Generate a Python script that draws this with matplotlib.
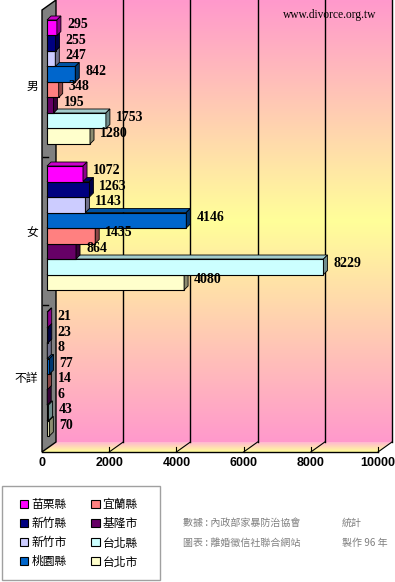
import numpy as np
import matplotlib.pyplot as plt
from matplotlib.patches import Polygon, Patch, Rectangle

plt.rcParams['font.family'] = ['Noto Sans CJK TC', 'DejaVu Sans']

# data
groups = ['男', '女', '不詳']
cities = ['苗栗縣', '新竹縣', '新竹市', '桃園縣', '宜蘭縣', '基隆市', '台北縣', '台北市']
colors = ['#FF00FF', '#000080', '#CCCCFF', '#0066CC', '#FF8080', '#660066', '#CCFFFF', '#FFFFCC']
male = [295, 255, 247, 842, 348, 195, 1753, 1280]
female = [1072, 1263, 1143, 4146, 1435, 864, 8229, 4080]
unknown = [21, 23, 8, 77, 14, 6, 43, 70]
xticks = [0, 2000, 4000, 6000, 8000, 10000]

W, H = 395, 582
fig = plt.figure(figsize=(W / 100, H / 100), dpi=100)

# --- decorations in pixel coords (walls, floor, grid) ---
bg = fig.add_axes([0, 0, 1, 1], zorder=0)
bg.axis('off')

pink = np.array([1.0, 0.6, 0.8])
yellow = np.array([1.0, 1.0, 0.6])
t = np.linspace(0, 1, 256)
w = 1 - np.abs(2 * t - 1)
grad = (pink[None, :] * (1 - w[:, None]) + yellow[None, :] * w[:, None])[:, None, :]
bg.imshow(grad, extent=(56, 392, 442, 0), aspect='auto', interpolation='bilinear')

t2 = np.linspace(0, 1, 32)
grad2 = (np.array([1.0, 0.72, 0.82])[None, :] * (1 - t2[:, None]) + yellow[None, :] * t2[:, None])[:, None, :]
floor = Polygon([(42, 452), (56, 442), (392, 442), (378, 452)], closed=True, fc='none', ec='none')
bg.add_patch(floor)
im = bg.imshow(grad2, extent=(42, 392, 452, 442), aspect='auto', interpolation='bilinear')
im.set_clip_path(floor)

bg.add_patch(Polygon([(42, 10), (56, 0), (56, 442), (42, 452)], closed=True,
                     fc='#808080', ec='black', lw=1, zorder=3))

bg.text(283, 15, 'www.divorce.org.tw', fontfamily='Liberation Serif', fontsize=8.3,
        va='center', ha='left', zorder=2)

px = 336 / 10000
for v in xticks[1:]:
    x = 56 + v * px
    bg.plot([x, x], [0, 442], color='black', lw=1, zorder=4)
    bg.plot([x - 14, x], [452, 442], color='black', lw=0.8, zorder=4)
    bg.plot([x - 14, x - 14], [447, 452], color='black', lw=0.8, zorder=4)
bg.plot([42, 378], [452, 452], color='black', lw=1, zorder=4)
for yt in [157, 305]:
    bg.plot([43, 48], [yt, yt], color='black', lw=1, zorder=4)

bg.add_patch(Rectangle((2, 486), 158, 94, fc='white', ec='#A0A0A0', lw=1, zorder=1))
bg.text(183, 523, '數據 : 內政部家暴防治協會', color='#808080', fontsize=7.2, va='center')
bg.text(342, 523, '統計', color='#808080', fontsize=7.2, va='center')
bg.text(183, 543, '圖表 : 離婚徵信社聯合網站', color='#808080', fontsize=7.2, va='center')
bg.text(342, 543, '製作 96 年', color='#808080', fontsize=7.2, va='center')
bg.set_xlim(0, W)
bg.set_ylim(H, 0)

# --- main axes (front plane) ---
slot = 15.5
ax = fig.add_axes([42 / W, (H - 452) / H, 336 / W, 442 / H], zorder=1)
ax.patch.set_alpha(0)
ax.set_xlim(0, 10000)
ax.set_ylim(442 / slot, 0)
for s in ax.spines.values():
    s.set_visible(False)

bl = 5 / px          # bar start offset
dx = 4 / px          # depth in x
dy = 4 / slot        # depth in y
off = 6 / px         # label gap

def shade(c, k):
    r, g, b = plt.matplotlib.colors.to_rgb(c)
    return (r * k, g * k, b * k)

tops = [0.645 + g * 9.42 for g in range(3)]
for g, vals in enumerate([male, female, unknown]):
    for i in reversed(range(len(vals))):
        v = vals[i]
        y = tops[g] + i + 0.5
        z = 2 + g + (8 - i) * 0.1
        ax.barh(y, v, left=bl, height=1, color=colors[i], edgecolor='black', lw=0.8, zorder=z)
        y0 = y - 0.5
        y1 = y + 0.5
        ax.add_patch(Polygon([(bl, y0), (bl + dx, y0 - dy), (bl + v + dx, y0 - dy), (bl + v, y0)],
                             closed=True, fc=shade(colors[i], 0.8), ec='black', lw=0.6, zorder=z))
        ax.add_patch(Polygon([(bl + v, y0), (bl + v + dx, y0 - dy), (bl + v + dx, y1 - dy), (bl + v, y1)],
                             closed=True, fc=shade(colors[i], 0.55), ec='black', lw=0.6, zorder=z))
        ax.text(bl + v + dx + off, y - 0.2, str(v), fontfamily='Liberation Serif', fontweight='bold',
                fontsize=10, va='center', ha='left', zorder=10)

ax.set_xticks(xticks)
ax.set_xticklabels([str(v) for v in xticks], fontfamily=['Liberation Sans Narrow', 'Liberation Sans'],
                   fontweight='bold', fontsize=9)
ax.set_yticks([tp + 4.2 for tp in tops])
ax.set_yticklabels(groups, fontsize=8.5)
ax.tick_params(axis='x', length=0, pad=3.6)
ax.tick_params(axis='y', length=0, pad=2.9)

handles = [Patch(fc=c, ec='black', lw=0.8) for c in colors]
fig.legend(handles, cities, ncol=2, loc='upper left', bbox_to_anchor=(20 / W, 1 - 498 / H),
           frameon=False, fontsize=8.5, handlelength=0.7, handleheight=0.7, handletextpad=0.25,
           columnspacing=2.1, labelspacing=0.52, borderpad=0, borderaxespad=0)

fig.savefig('out.png', dpi=100)
